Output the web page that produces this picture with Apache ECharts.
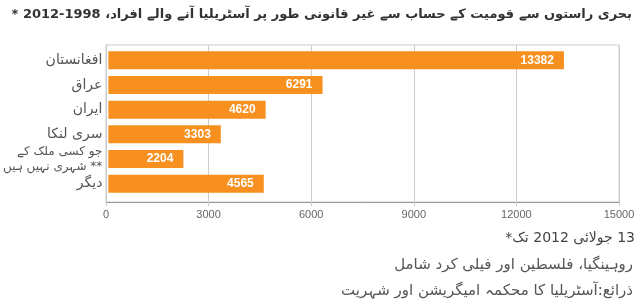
<!DOCTYPE html>
<html>
<head>
<meta charset="utf-8">
<script src="https://cdn.jsdelivr.net/npm/echarts@6/dist/echarts.min.js"></script>
<style>html,body{margin:0;padding:0;background:#fff;}#c{width:640px;height:307px;}</style>
</head>
<body>
<div id="c" dir="rtl"></div>
<script>
const categories = ["افغانستان", "عراق", "ایران", "سری لنکا", "جو کسی ملک کے\n** شہری نہیں ہیں", "دیگر"];
const values = [13382, 6291, 4620, 3303, 2204, 4565];
const xTicks = { min: 0, max: 15000, interval: 3000 };
const titleText = "بحری راستوں سے قومیت کے حساب سے غیر قانونی طور پر آسٹریلیا آنے والے افراد، 1998-2012 *";
const noteDate = "13 جولائی 2012 تک*";
const noteStateless = "روہینگیا، فلسطین اور فیلی کرد شامل";
const noteSource = "ذرائع:آسٹریلیا کا محکمہ امیگریشن اور شہریت";

const URDU = '"DejaVu Sans", sans-serif';
const NUM = '"Liberation Sans", Arial, sans-serif';

const chart = echarts.init(document.getElementById('c'), null, { renderer: 'canvas' });
chart.setOption({
  animation: false,
  backgroundColor: '#fff',
  title: [
    { text: titleText, right: 3, top: 3, textStyle: { fontFamily: URDU, fontSize: 13, fontWeight: 'bold', color: '#333' } },
    { text: noteDate, right: 0, top: 226, textStyle: { fontFamily: URDU, fontSize: 14, fontWeight: 'normal', color: '#444' } },
    { text: noteStateless, right: 2, top: 253, textStyle: { fontFamily: URDU, fontSize: 15, fontWeight: 'normal', color: '#555' } },
    { text: noteSource, right: 2, top: 279, textStyle: { fontFamily: URDU, fontSize: 15, fontWeight: 'normal', color: '#555' } }
  ],
  grid: [
    { left: 106, right: 21, top: 48, height: 148 },
    { left: 106, right: 21, top: 45, height: 157, show: true, borderColor: '#ccc', borderWidth: 1 }
  ],
  xAxis: [
    { gridIndex: 0, type: 'value', min: xTicks.min, max: xTicks.max, show: false },
    { gridIndex: 1, type: 'value', min: xTicks.min, max: xTicks.max, interval: xTicks.interval,
      axisLine: { show: true, lineStyle: { color: '#999' } },
      axisTick: { show: true, length: 4, lineStyle: { color: '#ccc' } },
      splitLine: { show: true, lineStyle: { color: '#ccc' } },
      axisLabel: { color: '#666', fontFamily: NUM, fontSize: 11, margin: 7, formatter: v => String(v) } }
  ],
  yAxis: [
    { gridIndex: 0, type: 'category', inverse: true, data: categories,
      axisLine: { show: false }, axisTick: { show: false },
      axisLabel: { margin: 6, color: '#555', fontFamily: URDU, fontSize: 14,
        formatter: v => v.indexOf('\n') >= 0 ? v.split('\n').map(s => '{s|' + s + '}').join('\n') : v,
        rich: { s: { fontSize: 12, lineHeight: 15, color: '#555', fontFamily: URDU } } } },
    { gridIndex: 1, type: 'value', show: false, min: 0, max: 1 }
  ],
  series: [{
    type: 'bar', xAxisIndex: 0, yAxisIndex: 0, data: values,
    barWidth: 18, itemStyle: { color: '#f7901e' },
    label: { show: true, position: 'insideRight', distance: 10, color: '#fff', fontFamily: NUM, fontSize: 12, fontWeight: 'bold' }
  }]
});
</script>
</body>
</html>
